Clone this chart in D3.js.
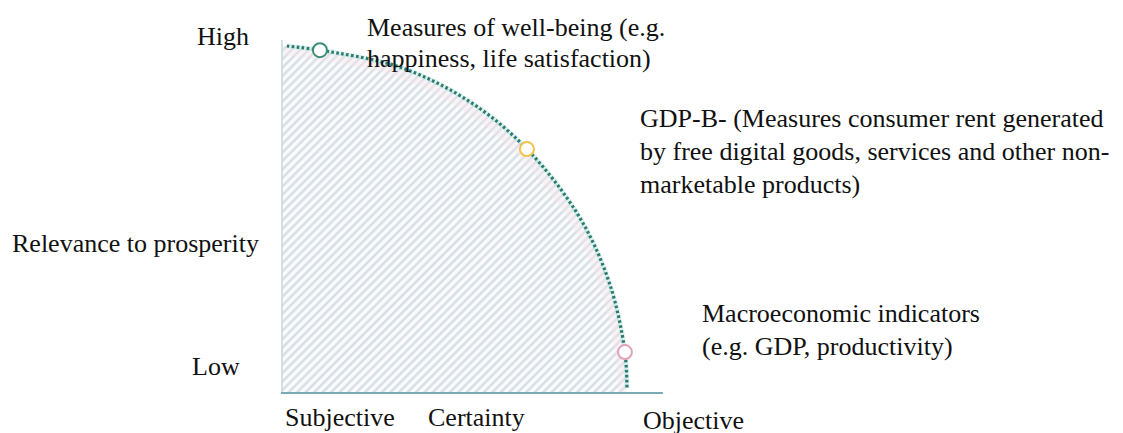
<!DOCTYPE html>
<html>
<head>
<meta charset="utf-8">
<script src="https://cdn.jsdelivr.net/npm/d3@7"></script>
<style>
  html, body { margin: 0; padding: 0; background: #fff; }
</style>
</head>
<body>
<svg id="chart" width="1123" height="433"></svg>
<script>
// frontier curve (certainty 0..1, relevance 0..1)
const curveX = [0.014, 0.11, 0.342, 0.545, 0.71, 0.864, 0.951, 0.994, 1.0];
const curveY = [1.0, 0.988, 0.939, 0.839, 0.703, 0.504, 0.311, 0.118, 0.014];

// the three kinds of measure sitting on the frontier
const measureNames = ['Measures of well-being', 'GDP-B', 'Macroeconomic indicators'];
const measureX = [0.11, 0.71, 0.994];
const measureY = [0.988, 0.703, 0.118];
const measureColors = ['#3d8c78', '#f0c448', '#e3a1b9'];

// annotation lines
const labelLines = [
  ['Measures of well-being (e.g.', 'happiness, life satisfaction)'],
  ['GDP-B- (Measures consumer rent generated', 'by free digital goods, services and other non-', 'marketable products)'],
  ['Macroeconomic indicators', '(e.g. GDP, productivity)']
];
const yTickLabels = ['Low', 'High'];
const xTickLabels = ['Subjective', 'Certainty', 'Objective'];
const yTitle = 'Relevance to prosperity';

const FONT = "'Liberation Serif'";
const svg = d3.select('#chart');

const x = d3.scaleLinear().domain([0, 1]).range([282, 627]);
const y = d3.scaleLinear().domain([0, 1]).range([393, 46]);

const pts = curveX.map((d, i) => ({ x: d, y: curveY[i] }));

// hatch pattern
const defs = svg.append('defs');
const pat = defs.append('pattern')
  .attr('id', 'hatch')
  .attr('patternUnits', 'userSpaceOnUse')
  .attr('width', 6)
  .attr('height', 6)
  .attr('patternTransform', 'rotate(45)');
pat.append('rect').attr('width', 6).attr('height', 6).attr('fill', '#fafbfc');
pat.append('line')
  .attr('x1', 1.5).attr('y1', 0).attr('x2', 1.5).attr('y2', 6)
  .attr('stroke', '#d3dbe2').attr('stroke-width', 2.2);

const smooth = d3.line().x(d => x(d.x)).y(d => y(d.y)).curve(d3.curveCatmullRom.alpha(0.5));

// hatched region under the frontier
svg.append('path')
  .attr('d', smooth(pts) + 'L' + x(curveX[curveX.length - 1]) + ',' + y(0) + 'L' + x(0) + ',' + y(0) + 'L' + x(0) + ',' + y(curveY[0]) + 'Z')
  .attr('fill', 'url(#hatch)');

// faint pink tint inside the frontier
svg.append('path')
  .attr('d', smooth(pts))
  .attr('fill', 'none')
  .attr('stroke', '#f8e6ec')
  .attr('stroke-width', 8)
  .attr('opacity', 0.35)
  .attr('transform', 'translate(-5,5)');

// axes
svg.append('line')
  .attr('x1', x(0)).attr('x2', x(0))
  .attr('y1', y(1.017)).attr('y2', y(0))
  .attr('stroke', '#c2dadf').attr('stroke-width', 1.5);
svg.append('line')
  .attr('x1', x(0) - 1).attr('x2', x(1.104))
  .attr('y1', y(0)).attr('y2', y(0))
  .attr('stroke', '#79aab3').attr('stroke-width', 2);

// dotted frontier
svg.append('path')
  .attr('d', smooth(pts))
  .attr('fill', 'none')
  .attr('stroke', '#b9e6e2')
  .attr('stroke-width', 5)
  .attr('opacity', 0.45);
svg.append('path')
  .attr('d', smooth(pts))
  .attr('fill', 'none')
  .attr('stroke', '#2f7a6c')
  .attr('stroke-width', 3.2)
  .attr('stroke-dasharray', '2.6 2.4');

// markers
svg.selectAll('circle.m')
  .data(measureNames)
  .join('circle')
  .attr('class', 'm')
  .attr('cx', (d, i) => x(measureX[i]))
  .attr('cy', (d, i) => y(measureY[i]))
  .attr('r', 7)
  .attr('fill', '#fff')
  .attr('stroke', (d, i) => measureColors[i])
  .attr('stroke-width', 2);

function addText(px, py) {
  return svg.append('text')
    .attr('x', px).attr('y', py)
    .style('font-family', FONT)
    .attr('font-size', 26)
    .attr('fill', '#111');
}

// annotations
const labelPos = [[367, 36, 31], [640, 127, 33], [702, 322, 33]];
labelLines.forEach((lines, i) => {
  const t = addText(labelPos[i][0], labelPos[i][1]);
  lines.forEach((s, j) => {
    t.append('tspan')
      .attr('x', labelPos[i][0])
      .attr('y', labelPos[i][1] + j * labelPos[i][2])
      .text(s);
  });
});

// axis labels
addText(192, 375).text(yTickLabels[0]);
addText(197, 45).text(yTickLabels[1]);
addText(12, 252).text(yTitle);
const xLabPos = [[285, 426], [428, 426], [643, 429]];
xTickLabels.forEach((s, i) => {
  addText(xLabPos[i][0], xLabPos[i][1]).text(s);
});
</script>
</body>
</html>
